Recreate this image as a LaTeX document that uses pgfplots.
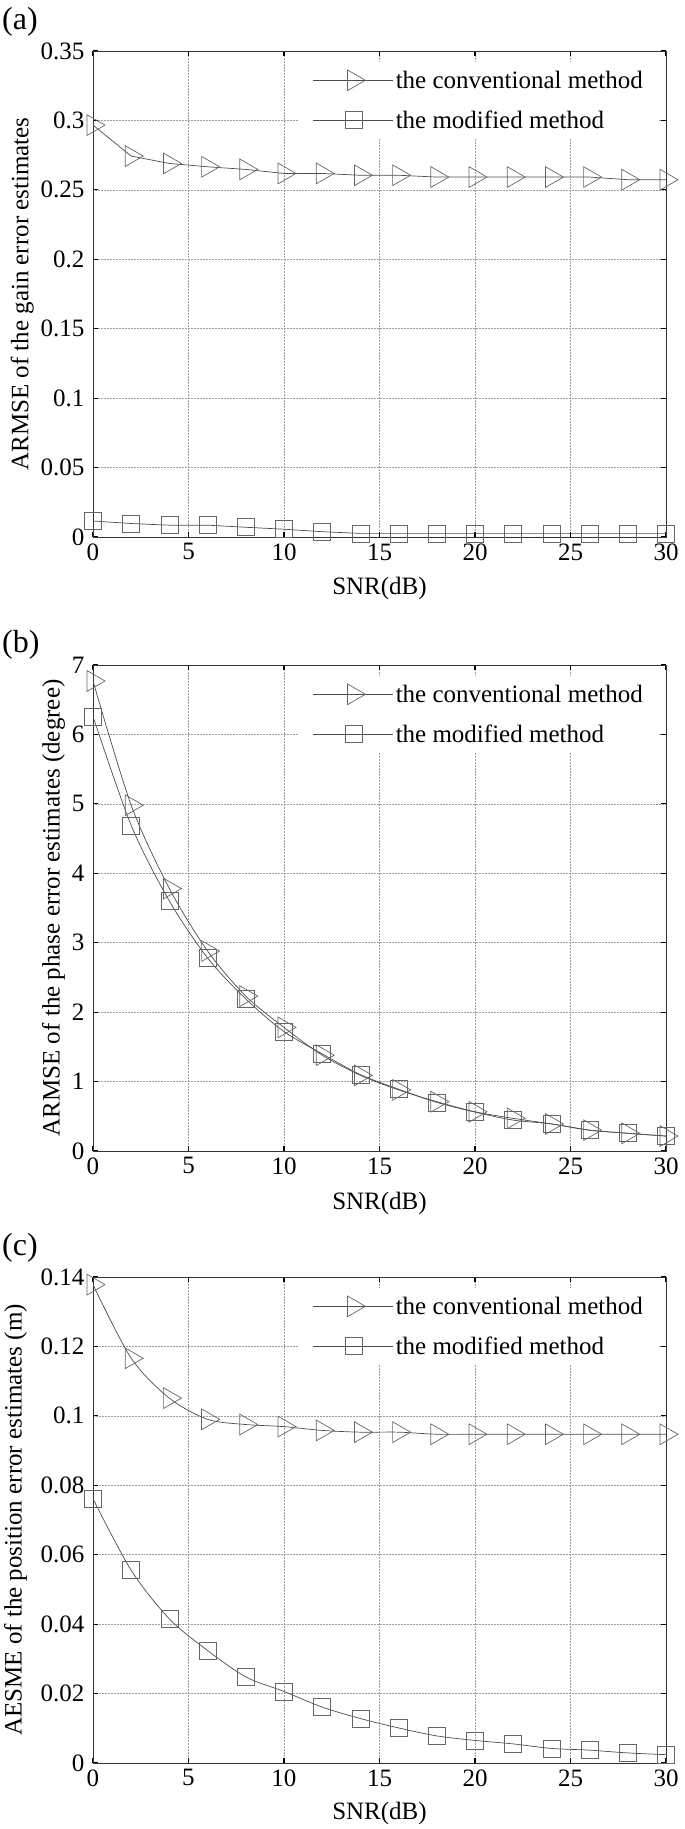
\documentclass[border=0pt]{standalone}
\usepackage{pgfplots}
\pgfplotsset{compat=1.18}
\usepackage{fontspec}
\setmainfont{Liberation Serif}
\newcommand{\fs}{\fontsize{25}{29}\selectfont}
\pgfplotsset{
  myax/.style={
    scale only axis, width=573pt, height=486pt,
    xmin=0, xmax=30, ymin=0,
    xtick={0,5,...,30},
    tick align=inside, major tick length=5pt,
    xtick pos=both, ytick pos=both,
    tick style={black, line width=1.1pt},
    grid=major, major grid style={gray!75, line width=0.5pt, densely dotted},
    axis line style={line width=0.8pt, black!80},
    tick label style={font=\fs},
    label style={font=\fs},
    /pgf/number format/assume math mode=true,
    yticklabel style={xshift=-5pt},
    xticklabel style={yshift=-3pt},
    xlabel={SNR(dB)},
    xlabel style={at={(rel axis cs:0.5,0)}, anchor=center, yshift=-52pt},
    legend style={draw=none, fill=white, at={(rel axis cs:0.988,0.978)}, anchor=north east,
      font=\fs, row sep=17pt, inner xsep=14pt, inner ysep=7pt},
    legend cell align=left,
    legend image code/.code={\draw[##1, mark repeat=2, mark phase=2] plot coordinates {(0pt,0pt) (40pt,0pt) (80pt,0pt)};},
  },
  conv/.style={line width=0.7pt, black!70, mark=triangle, mark size=12pt, mark options={rotate=-90, solid, gray!80!black, line width=0.7pt}},
  modi/.style={line width=0.7pt, black!70, mark=square, mark size=8.5pt, mark options={solid, gray!80!black, line width=0.7pt}},
}
\begin{document}
\begin{tikzpicture}
\useasboundingbox (0,0) rectangle (685pt,1829pt);
\node[anchor=west, font=\fontsize{32}{36}\selectfont, inner sep=0pt] at (2pt,1807pt) {(a)};
\node[anchor=west, font=\fontsize{32}{36}\selectfont, inner sep=0pt] at (2pt,1184pt) {(b)};
\node[anchor=west, font=\fontsize{32}{36}\selectfont, inner sep=0pt] at (2pt,581pt) {(c)};

% ---------- (a)
\begin{axis}[myax, at={(93pt,1292pt)}, anchor=origin,
  ymax=0.35, ytick={0,0.05,0.1,0.15,0.2,0.25,0.3,0.35},
  yticklabels={0,0.05,0.1,0.15,0.2,0.25,0.3,0.35},
  ylabel={ARMSE of the gain error estimates}]
\addplot[conv] coordinates {
 (0,0.2966) (2,0.2743) (4,0.2690) (6,0.2666) (8,0.2647) (10,0.2618) (12,0.2618)
 (14,0.2605) (16,0.2605) (18,0.2592) (20,0.2592) (22,0.2592) (24,0.2592) (26,0.2592)
 (28,0.2573) (30,0.2573)};
\addlegendentry{the conventional method}
\addplot[modi] coordinates {
 (0,0.0115) (2,0.0097) (4,0.0085) (6,0.0085) (8,0.0070) (10,0.0056) (12,0.0038)
 (14,0.0026) (16,0.0026) (18,0.0026) (20,0.0026) (22,0.0026) (24,0.0026) (26,0.0026)
 (28,0.0026) (30,0.0026)};
\addlegendentry{the modified method}
\end{axis}

% ---------- (b)
\begin{axis}[myax, at={(93pt,678pt)}, anchor=origin,
  ymax=7, ytick={0,1,...,7},
  ylabel={ARMSE of the phase error estimates (degree)}]
\addplot[conv, smooth, tension=0.5] coordinates {
 (0,6.77) (2,4.98) (4,3.78) (6,2.88) (8,2.23) (10,1.78) (12,1.38)
 (14,1.09) (16,0.88) (18,0.71) (20,0.565) (22,0.47) (24,0.39) (26,0.30)
 (28,0.255) (30,0.215)};
\addlegendentry{the conventional method}
\addplot[modi, smooth, tension=0.5] coordinates {
 (0,6.26) (2,4.69) (4,3.60) (6,2.78) (8,2.19) (10,1.72) (12,1.40)
 (14,1.10) (16,0.89) (18,0.70) (20,0.56) (22,0.445) (24,0.39) (26,0.30)
 (28,0.255) (30,0.215)};
\addlegendentry{the modified method}
\end{axis}

% ---------- (c)
\begin{axis}[myax, at={(93pt,66pt)}, anchor=origin,
  ymax=0.14, ytick={0,0.02,0.04,0.06,0.08,0.1,0.12,0.14},
  yticklabels={0,0.02,0.04,0.06,0.08,0.1,0.12,0.14},
  xlabel style={yshift=2pt},
  ylabel shift=7pt,
  ylabel={AESME of the position error estimates (m)}]
\addplot[conv, smooth, tension=0.5] coordinates {
 (0,0.1378) (2,0.1166) (4,0.1051) (6,0.0990) (8,0.0975) (10,0.0969) (12,0.0958)
 (14,0.0953) (16,0.0953) (18,0.0947) (20,0.0947) (22,0.0947) (24,0.0947) (26,0.0947)
 (28,0.0947) (30,0.0947)};
\addlegendentry{the conventional method}
\addplot[modi, smooth, tension=0.5] coordinates {
 (0,0.0761) (2,0.0555) (4,0.0415) (6,0.0324) (8,0.0248) (10,0.0206) (12,0.0161)
 (14,0.0128) (16,0.0101) (18,0.0078) (20,0.0065) (22,0.0055) (24,0.0042) (26,0.0037)
 (28,0.0029) (30,0.0024)};
\addlegendentry{the modified method}
\end{axis}
\end{tikzpicture}
\end{document}
